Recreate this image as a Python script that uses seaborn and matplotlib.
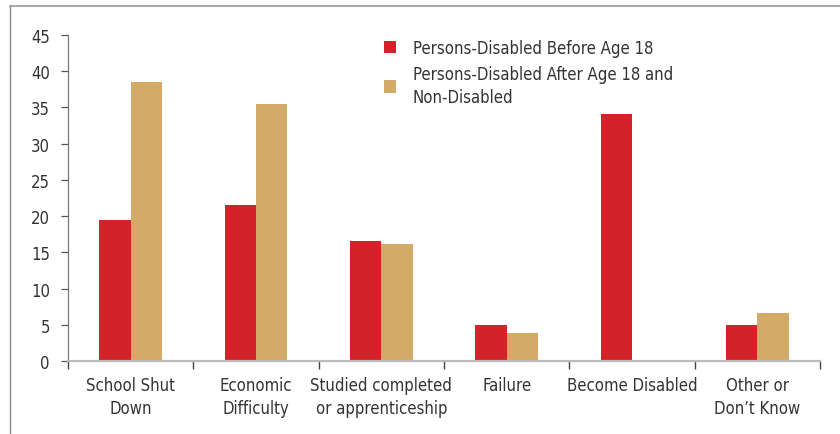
import seaborn as sns
import matplotlib.pyplot as plt
import pandas as pd
from matplotlib.lines import Line2D

categories = ["School Shut\nDown", "Economic\nDifficulty", "Studied completed\nor apprenticeship",
              "Failure", "Become Disabled", "Other or\nDon\u2019t Know"]
before_18 = [19.5, 21.5, 16.6, 5.0, 34.1, 5.0]
after_18 = [38.5, 35.5, 16.2, 3.9, 0.0, 6.6]
series = ["Persons-Disabled Before Age 18",
          "Persons-Disabled After Age 18 and\nNon-Disabled"]
yticks = [0, 5, 10, 15, 20, 25, 30, 35, 40, 45]

df = pd.DataFrame({
    "category": categories * 2,
    "value": before_18 + after_18,
    "group": [series[0]] * len(categories) + [series[1]] * len(categories),
})

sns.set_style("white")
plt.rcParams["font.family"] = ["DejaVu Sans"]
plt.rcParams["font.stretch"] = "condensed"

palette = ["#D2232A", "#D4AA68"]

fig = plt.figure(figsize=(8.4, 4.35), dpi=100)
ax = fig.add_axes([68 / 840, 1 - 362 / 435, (820 - 68) / 840, (362 - 36) / 435])

sns.barplot(data=df, x="category", y="value", hue="group", palette=palette,
            width=0.5, saturation=1, linewidth=0, ax=ax)

ax.set_ylim(0, 45)
ax.set_xlim(-0.5, len(categories) - 0.5)
ax.set_yticks(yticks)
ax.set_xlabel("")
ax.set_ylabel("")

for s in ["top", "right"]:
    ax.spines[s].set_visible(False)
ax.spines["left"].set_color("#777777")
ax.spines["left"].set_linewidth(0.9)
ax.spines["bottom"].set_color("#bbbbbb")
ax.spines["bottom"].set_linewidth(1.6)

ax.tick_params(axis="y", length=5, width=0.9, color="#555555", labelsize=12,
               labelcolor="#333333", pad=8, left=True)
ax.tick_params(axis="x", which="major", length=0, labelsize=12, labelcolor="#333333", pad=11)
for lbl in ax.get_xticklabels():
    lbl.set_linespacing(1.35)
ax.set_xticks([i - 0.5 for i in range(len(categories) + 1)], minor=True)
ax.tick_params(axis="x", which="minor", length=6, width=1, color="#444444", bottom=True)

leg = ax.legend(loc="upper left", bbox_to_anchor=(0.4, 1.035), frameon=False,
                fontsize=12, handlelength=0.75, handleheight=0.75, handletextpad=1.0,
                labelspacing=0.5)
for t in leg.get_texts():
    t.set_color("#333333")
    t.set_linespacing(1.35)

fig.add_artist(Line2D([10 / 840, 1], [1 - 7 / 435, 1 - 7 / 435], color="#aaaaaa", lw=1.5,
                      transform=fig.transFigure))
fig.add_artist(Line2D([10 / 840, 10 / 840], [0, 1 - 7 / 435], color="#888888", lw=1,
                      transform=fig.transFigure))

fig.savefig("out.png", dpi=100)
